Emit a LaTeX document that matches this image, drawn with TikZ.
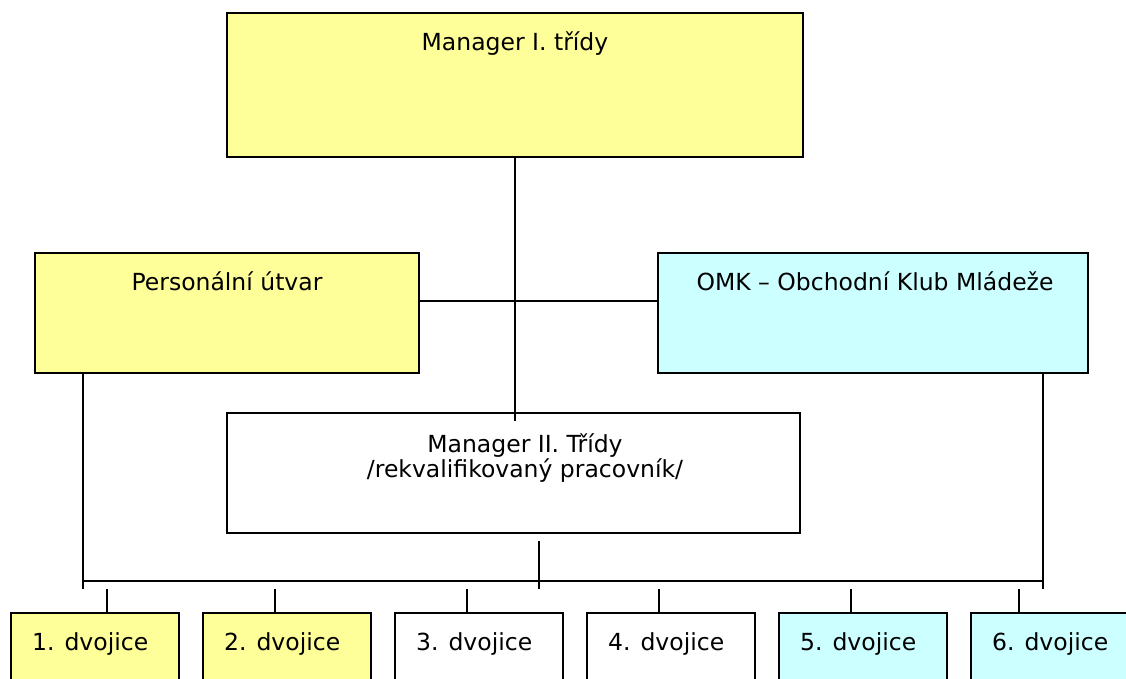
\documentclass[tikz,border=0pt]{standalone}
\usepackage{fontspec}
\setmainfont{DejaVu Sans}
\definecolor{boxyellow}{HTML}{FFFF99}
\definecolor{boxcyan}{HTML}{CCFFFF}
\begin{document}
\begin{tikzpicture}[x=1pt,y=-1pt,
  font=\fontsize{23.5}{26}\selectfont,
  box/.style={draw=black, line width=1.8pt, inner sep=0pt, minimum width=#1},
  ybox/.style={box=#1, fill=boxyellow},
  cbox/.style={box=#1, fill=boxcyan},
  wbox/.style={box=#1, fill=white},
  lbl/.style={anchor=base, inner sep=0pt, align=center},
  conn/.style={line width=1.8pt}]
\useasboundingbox (0,0) rectangle (1126,679);
\clip (0,0) rectangle (1126,679);
\fill[white] (0,0) rectangle (1126,679);

% top manager
\node[ybox=576pt, minimum height=144pt] (m1) at (515,85) {};
\node[lbl] (m1t) at (515,51) {Manager I. třídy};

% side boxes
\node[ybox=384pt, minimum height=120pt] (pers) at (227,313) {};
\node[lbl] (perst) at (227,290) {Personální útvar};
\node[cbox=430pt, minimum height=120pt] (omk) at (873,313) {};
\node[lbl] (omkt) at (875,290) {OMK – Obchodní Klub Mládeže};

% manager II
\node[wbox=573pt, minimum height=120pt] (m2) at (513.5,473) {};
\node[lbl, anchor=base] (m2t) at (525,452) {Manager II. Třídy};
\node[lbl, anchor=base] (m2u) at (525,477) {/rekvalifikovaný pracovník/};

% bottom boxes
\foreach \i/\col in {1/boxyellow,2/boxyellow,3/white,4/white,5/boxcyan,6/boxcyan}{
  \pgfmathsetmacro{\L}{11+192*(\i-1)}
  \node[box=168pt, minimum height=100pt, fill=\col] (b\i) at (\L+84,663) {};
  \node[anchor=base west, inner sep=0pt] (bt\i) at (\L+21,650) {\i. dvojice};
}

% connectors
\coordinate (m1end) at (515,421);
\draw[conn] (m1.south) -- (m1end);
\coordinate (hmid) at (515,301);
\draw[conn] (pers.east |- hmid) -- (omk.west |- hmid);

\coordinate (busL) at (83,581);
\coordinate (busR) at (1043,581);
\coordinate (leftEnd) at (83,589);
\coordinate (rightEnd) at (1043,589);
\draw[conn] (pers.south -| leftEnd) -- (leftEnd);
\draw[conn] (omk.south -| rightEnd) -- (rightEnd);
\draw[conn] (busL) -- (busR);
\coordinate (m2s) at (539,541);
\coordinate (m2e) at (539,589);
\draw[conn] (m2s) -- (m2e);

\foreach \i/\tx in {1/107,2/275,3/467,4/659,5/851,6/1019}{
  \coordinate (tk\i) at (\tx,589);
  \draw[conn] (tk\i) -- (b\i.north -| tk\i);
}
\end{tikzpicture}
\end{document}
